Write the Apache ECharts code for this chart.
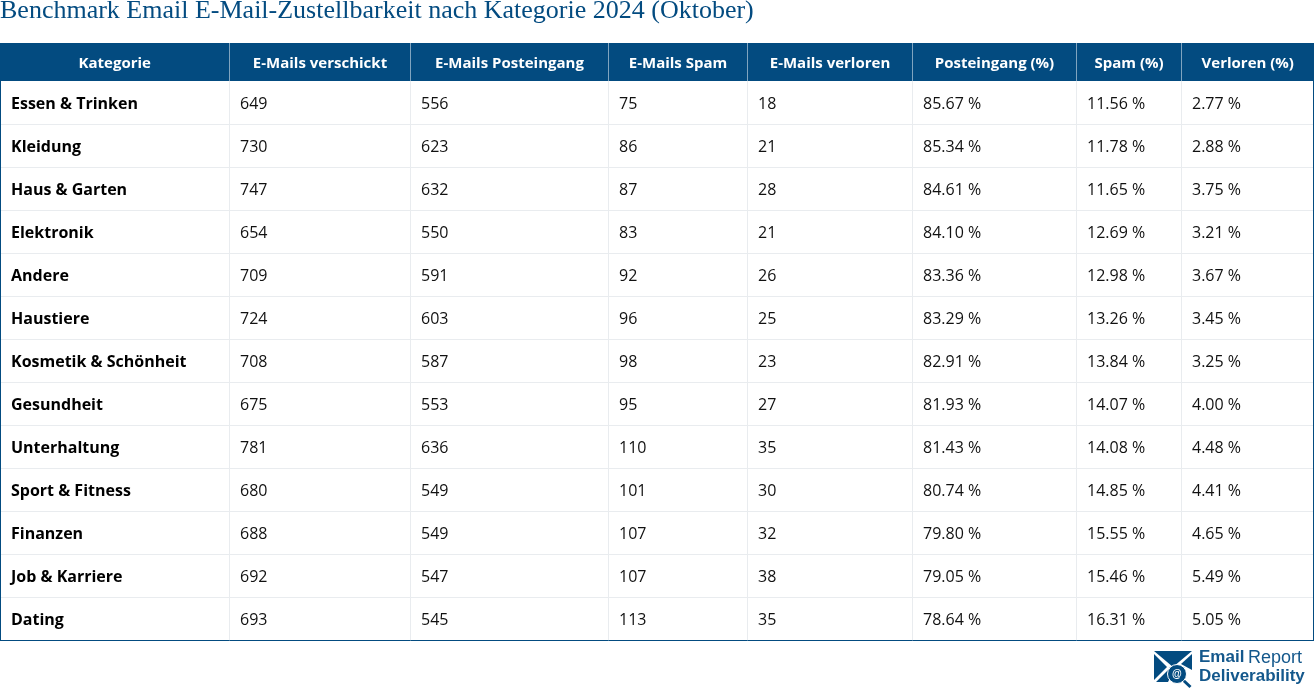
<!DOCTYPE html>
<html>
<head>
<meta charset="utf-8">
<title>Benchmark Email E-Mail-Zustellbarkeit</title>
<style>
  html, body { margin: 0; padding: 0; background: #fff; overflow: hidden; }
  #chart { width: 1314px; height: 689px; }
</style>
<script src="https://cdn.jsdelivr.net/npm/echarts@6/dist/echarts.min.js"></script>
</head>
<body>
<div id="chart"></div>
<script>
// Daten
const headers = ['Kategorie', 'E-Mails verschickt', 'E-Mails Posteingang', 'E-Mails Spam', 'E-Mails verloren', 'Posteingang (%)', 'Spam (%)', 'Verloren (%)'];
const categories = ['Essen & Trinken', 'Kleidung', 'Haus & Garten', 'Elektronik', 'Andere', 'Haustiere', 'Kosmetik & Schönheit', 'Gesundheit', 'Unterhaltung', 'Sport & Fitness', 'Finanzen', 'Job & Karriere', 'Dating'];
const sent = [649, 730, 747, 654, 709, 724, 708, 675, 781, 680, 688, 692, 693];
const inbox = [556, 623, 632, 550, 591, 603, 587, 553, 636, 549, 549, 547, 545];
const spam = [75, 86, 87, 83, 92, 96, 98, 95, 110, 101, 107, 107, 113];
const lost = [18, 21, 28, 21, 26, 25, 23, 27, 35, 30, 32, 38, 35];
const inboxPct = [85.67, 85.34, 84.61, 84.10, 83.36, 83.29, 82.91, 81.93, 81.43, 80.74, 79.80, 79.05, 78.64];
const spamPct = [11.56, 11.78, 11.65, 12.69, 12.98, 13.26, 13.84, 14.07, 14.08, 14.85, 15.55, 15.46, 16.31];
const lostPct = [2.77, 2.88, 3.75, 3.21, 3.67, 3.45, 3.25, 4.00, 4.48, 4.41, 4.65, 5.49, 5.05];

// Spaltengrenzen, in Einheiten der x-Achse (Layout)
const columnEdges = [0, 229.5, 410.5, 608.5, 747.5, 912.5, 1076.5, 1181.5, 1314];

const BLUE = '#034b80';
const LINE = '#e9ecef';
const LOGO_TEXT = '#14588c';
const pct = v => v.toFixed(2) + ' %';

const headerData = headers.map((h, c) => [c, 0, h]);
const bodyData = [];
categories.forEach((name, r) => {
  const row = [name, sent[r], inbox[r], spam[r], lost[r], pct(inboxPct[r]), pct(spamPct[r]), pct(lostPct[r])];
  row.forEach((v, c) => bodyData.push([c, r, String(v)]));
});

function renderHeader(params, api) {
  const c = api.value(0);
  const left = api.coord([columnEdges[c], 0])[0];
  const right = api.coord([columnEdges[c + 1], 0])[0];
  const mid = api.coord([0, 0])[1];
  const h = api.size([0, 1])[1];
  const children = [
    { type: 'rect', shape: { x: left, y: mid - h / 2, width: right - left, height: h }, style: { fill: BLUE } },
    { type: 'text', style: { x: (left + right) / 2, y: mid + 1.5, text: headers[c], align: 'center', verticalAlign: 'middle', fill: '#fff', font: 'bold 15px "Open Sans"' } }
  ];
  if (c < headers.length - 1) {
    children.push({ type: 'line', shape: { x1: right, y1: mid - h / 2, x2: right, y2: mid + h / 2 }, style: { stroke: '#fff', lineWidth: 1 } });
  }
  return { type: 'group', children };
}

function renderCell(params, api) {
  const c = api.value(0);
  const r = api.value(1);
  const left = api.coord([columnEdges[c], r])[0];
  const right = api.coord([columnEdges[c + 1], r])[0];
  const mid = api.coord([0, r])[1];
  const h = api.size([0, 1])[1];
  const top = mid - h / 2;
  const bottom = Math.round(mid + h / 2) + 0.5;
  const last = r === categories.length - 1;
  const children = [
    { type: 'text', style: { x: left + (c === 0 ? 11 : 10.5), y: mid + 1.5, text: bodyData[params.dataIndex][2], align: 'left', verticalAlign: 'middle', fill: c === 0 ? '#000' : '#111', font: (c === 0 ? 'bold ' : '') + '16px "Open Sans"' } }
  ];
  if (c < headers.length - 1) {
    children.push({ type: 'line', shape: { x1: right, y1: top, x2: right, y2: bottom + 0.5 }, style: { stroke: LINE, lineWidth: 1 } });
  }
  children.push({ type: 'line', shape: { x1: left, y1: bottom, x2: right, y2: bottom }, style: { stroke: last ? BLUE : LINE, lineWidth: 1 } });
  if (c === 0) {
    children.push({ type: 'line', shape: { x1: 0.5, y1: top, x2: 0.5, y2: bottom + 0.5 }, style: { stroke: BLUE, lineWidth: 1 } });
  }
  if (c === headers.length - 1) {
    children.push({ type: 'line', shape: { x1: right - 0.5, y1: top, x2: right - 0.5, y2: bottom + 0.5 }, style: { stroke: BLUE, lineWidth: 1 } });
  }
  return { type: 'group', children };
}

const chart = echarts.init(document.getElementById('chart'), null, { renderer: 'canvas' });
chart.setOption({
  animation: false,
  backgroundColor: '#fff',
  title: {
    text: 'Benchmark Email E-Mail-Zustellbarkeit nach Kategorie 2024 (Oktober)',
    left: 0,
    top: -2,
    padding: 0,
    textStyle: { color: BLUE, fontFamily: '"Liberation Serif"', fontWeight: 'normal', fontSize: 26 }
  },
  grid: [
    { left: 0, right: 0, top: 43, height: 38 },
    { left: 0, right: 0, top: 81, height: 559 }
  ],
  xAxis: [
    { type: 'value', gridIndex: 0, min: 0, max: 1314, show: false },
    { type: 'value', gridIndex: 1, min: 0, max: 1314, show: false }
  ],
  yAxis: [
    { type: 'category', gridIndex: 0, data: ['Kopf'], show: false },
    { type: 'category', gridIndex: 1, data: categories, inverse: true, show: false }
  ],
  series: [
    { type: 'custom', xAxisIndex: 0, yAxisIndex: 0, silent: true, clip: false, data: headerData, renderItem: renderHeader },
    { type: 'custom', xAxisIndex: 1, yAxisIndex: 1, silent: true, clip: false, data: bodyData, renderItem: renderCell }
  ],
  graphic: [
    {
      type: 'group', left: 1154, top: 651, silent: true,
      children: [
        { type: 'polygon', shape: { points: [[0, 1], [38, 1], [19, 17]] }, style: { fill: BLUE } },
        { type: 'polygon', shape: { points: [[0, 4], [0, 30], [13, 17]] }, style: { fill: BLUE } },
        { type: 'polygon', shape: { points: [[38, 4], [38, 20], [27, 14]] }, style: { fill: BLUE } },
        { type: 'polygon', shape: { points: [[2, 32], [15, 19], [19, 21], [24, 16], [18, 24], [14, 32]] }, style: { fill: BLUE } },
        { type: 'line', shape: { x1: 29, y1: 30, x2: 36.5, y2: 37 }, style: { stroke: BLUE, lineWidth: 3 } },
        { type: 'circle', shape: { cx: 23, cy: 24, r: 9.5 }, style: { fill: BLUE, stroke: '#fff', lineWidth: 1 } },
        { type: 'text', style: { x: 23, y: 24.5, text: '@', align: 'center', verticalAlign: 'middle', fill: '#fff', font: 'bold 10px "Liberation Sans"' } }
      ]
    },
    { type: 'text', left: 1199, top: 649, silent: true, style: { text: 'Email', fill: LOGO_TEXT, font: 'bold 17px "Liberation Sans"' } },
    { type: 'text', left: 1248, top: 649, silent: true, style: { text: 'Report', fill: LOGO_TEXT, font: '18px "Liberation Sans"' } },
    { type: 'text', left: 1199, top: 668, silent: true, style: { text: 'Deliverability', fill: LOGO_TEXT, font: 'bold 17px "Liberation Sans"' } }
  ]
});
</script>
</body>
</html>
